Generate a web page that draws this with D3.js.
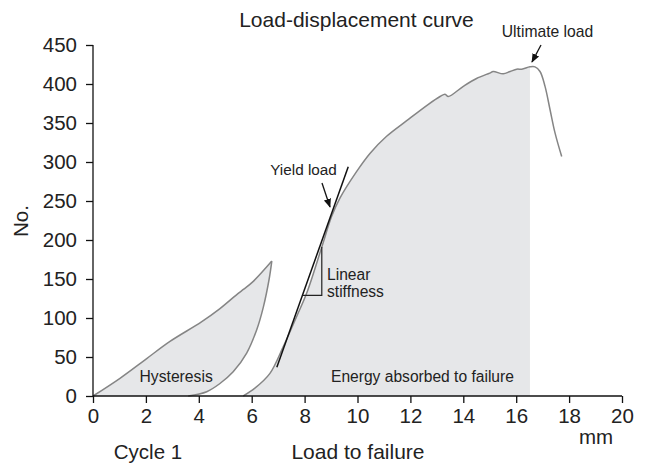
<!DOCTYPE html>
<html><head><meta charset="utf-8">
<script src="https://cdn.jsdelivr.net/npm/d3@7"></script>
<style>
html,body{margin:0;padding:0;background:#fff;}
svg{display:block;font-family:"Liberation Sans",Arial,Helvetica,sans-serif;}
</style></head>
<body>
<script>
// ---- data ----
const xTicks = [0,2,4,6,8,10,12,14,16,18,20];
const yTicks = [0,50,100,150,200,250,300,350,400,450];
const hysteresisLoading = [[0,0],[1.02,22.7],[2.03,48],[2.91,70],[4.1,95],[4.8,112],[5.49,131.6],[5.7,137],[6.06,147],[6.76,173]];
const hysteresisUnloading = [[6.76,173],[6.66,150],[6.44,114],[6.19,85],[5.81,55],[5.3,31],[4.8,16],[4.3,5.5],[3.6,0]];
const failureCurve = [[5.68,0],[6.12,10],[6.69,29],[7.19,63],[7.70,102],[8.08,132],[8.65,191],[9.02,230],[9.34,254],[9.97,288],[10.47,311],[11.1,333],[11.86,353],[12.68,374],[13.12,384],[13.31,387],[13.43,384],[14.0,397],[14.5,407],[15.0,414],[15.13,416],[15.51,413],[15.77,416],[16.02,419],[16.21,419],[16.52,422],[16.71,422],[16.9,416],[17.09,397],[17.28,367],[17.47,337],[17.72,307]];
const failureEnd = 16.52;
const yieldLine = [[6.95,37],[9.65,294]];
const stiffnessTriangle = [[7.93,129],[8.65,129],[8.65,191]];

const W = 646, H = 463;
const svg = d3.select("body").append("svg").attr("width",W).attr("height",H);
const x = d3.scaleLinear().domain([0,20]).range([93,622]);
const y = d3.scaleLinear().domain([0,450]).range([396,45]);

const fillCol = "#e6e7e9", curveCol = "#858585";
const line = d3.line().x(d=>x(d[0])).y(d=>y(d[1])).curve(d3.curveCatmullRom);

// hysteresis fill
const hystPath = line(hysteresisLoading) + line(hysteresisUnloading).replace(/^M/,"L") + "Z";
svg.append("path").attr("d",hystPath).attr("fill",fillCol).attr("stroke","none");

// energy fill
const energyPts = failureCurve.filter(d=>d[0]<=failureEnd);
const area = d3.area().x(d=>x(d[0])).y0(y(0)).y1(d=>y(d[1])).curve(d3.curveCatmullRom);
svg.append("path").attr("d",area(energyPts)).attr("fill",fillCol);

// curves
[hysteresisLoading, hysteresisUnloading, failureCurve].forEach(c=>{
  svg.append("path").attr("d",line(c)).attr("fill","none").attr("stroke",curveCol).attr("stroke-width",1.5);
});

// yield line & triangle
const straight = d3.line().x(d=>x(d[0])).y(d=>y(d[1]));
svg.append("path").attr("d",straight(yieldLine)).attr("stroke","#111").attr("stroke-width",1.5).attr("fill","none");
svg.append("path").attr("d",straight(stiffnessTriangle)).attr("stroke","#222").attr("stroke-width",1.2).attr("fill","none");

// axes
const xAxis = svg.append("g").attr("transform",`translate(0,${y(0)})`)
  .call(d3.axisBottom(x).tickValues(xTicks).tickSize(7).tickPadding(5));
const yAxis = svg.append("g").attr("transform",`translate(${x(0)},0)`)
  .call(d3.axisLeft(y).tickValues(yTicks).tickSize(7).tickPadding(9));
[xAxis,yAxis].forEach(g=>{
  g.select(".domain").attr("stroke","#111").attr("stroke-width",1.3);
  g.selectAll(".tick line").attr("stroke","#111").attr("stroke-width",1.3);
  g.selectAll(".tick text").attr("fill","#222").attr("font-size",20.5).attr("font-family","Liberation Sans, Arial, sans-serif");
});
xAxis.select(".domain").attr("d",`M${x(0)},0H${x(20)}`);
yAxis.select(".domain").attr("d",`M0,${y(0)}V${y(450)}`);

// arrow marker
svg.append("defs").append("marker").attr("id","arr").attr("viewBox","0 0 10 10")
  .attr("refX",9).attr("refY",5).attr("markerWidth",7).attr("markerHeight",7).attr("orient","auto")
  .append("path").attr("d","M0,1L10,5L0,9Z").attr("fill","#111");

// texts
const t = (tx,ty,s,size,anchor="middle")=>svg.append("text").attr("x",tx).attr("y",ty).attr("font-size",size)
  .attr("text-anchor",anchor).attr("fill","#222").text(s);
t(356.5,27,"Load-displacement curve",21);
t(547.5,37,"Ultimate load",15.7);
svg.append("line").attr("x1",541).attr("y1",45).attr("x2",532).attr("y2",62).attr("stroke","#111").attr("stroke-width",1.3).attr("marker-end","url(#arr)");
t(303.5,175,"Yield load",15.3);
svg.append("line").attr("x1",322).attr("y1",183).attr("x2",330).attr("y2",207).attr("stroke","#111").attr("stroke-width",1.3).attr("marker-end","url(#arr)");
t(327,280,"Linear",15.6,"start");
t(327,297,"stiffness",15.6,"start");
t(139.5,382,"Hysteresis",15.7,"start");
t(331,382,"Energy absorbed to failure",15.6,"start");
t(148,459,"Cycle 1",20.5);
t(358,459,"Load to failure",21);
t(596,444,"mm",20.5);
svg.append("text").attr("transform","translate(28,221) rotate(-90)").attr("text-anchor","middle")
  .attr("font-size",20.5).attr("fill","#222").text("No.");
</script>
</body></html>
